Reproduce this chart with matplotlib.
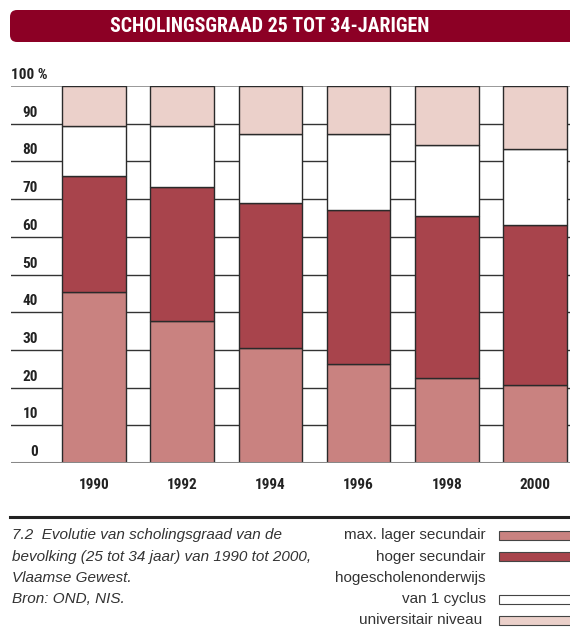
import matplotlib
matplotlib.use("Agg")
import matplotlib.pyplot as plt
from matplotlib import font_manager
from matplotlib.patches import FancyBboxPatch, Rectangle

# ---- data ----
years = ['1990', '1992', '1994', '1996', '1998', '2000']
max_lager = [45.3, 37.7, 30.6, 26.2, 22.6, 20.6]
hoger_sec = [30.7, 35.4, 38.4, 40.8, 42.9, 42.4]
hogescholen = [13.3, 16.2, 18.3, 20.3, 18.8, 20.2]
universitair = [10.7, 10.7, 12.7, 12.7, 15.7, 16.8]
yticks = [0, 10, 20, 30, 40, 50, 60, 70, 80, 90]
series_labels = ['max. lager secundair', 'hoger secundair',
                 'hogescholenonderwijs\nvan 1 cyclus', 'universitair niveau']
colors = ['#C98280', '#A8444C', '#FFFFFF', '#EBD0CA']
title = 'SCHOLINGSGRAAD 25 TOT 34-JARIGEN'
caption = ['7.2  Evolutie van scholingsgraad van de',
           'bevolking (25 tot 34 jaar) van 1990 tot 2000,',
           'Vlaamse Gewest.',
           'Bron: OND, NIS.']

names = {f.name for f in font_manager.fontManager.ttflist}
narrow = 'DejaVu Sans'
for cand in ['Liberation Sans Narrow', 'Roboto Condensed', 'Roboto']:
    if cand in names:
        narrow = cand
        break
regular = 'Liberation Sans' if 'Liberation Sans' in names else 'DejaVu Sans'

W, H = 570, 642
fig = plt.figure(figsize=(W / 100, H / 100), dpi=100)

def fx(px):
    return px / W

def fy(py):
    return 1 - py / H

# title banner
banner = FancyBboxPatch((0.10, (H - 42) / 100), 6.2, 0.32,
                        boxstyle="round,pad=0,rounding_size=0.07",
                        transform=fig.dpi_scale_trans, facecolor='#8C0025',
                        edgecolor='none')
fig.add_artist(banner)
fig.text(fx(270), fy(26.5), title, color='white', fontsize=14.3, fontweight='bold',
         family=narrow, ha='center', va='center')

# axes
ax_l, ax_r, ax_t, ax_b = 11, 570, 86, 463
ax = fig.add_axes([fx(ax_l), fy(ax_b), (ax_r - ax_l) / W, (ax_b - ax_t) / H])
x = list(range(len(years)))
unit = 88.2
left0 = -(94 - ax_l) / unit
ax.set_xlim(left0, left0 + (ax_r - ax_l) / unit)
ax.set_ylim(0, 100)
for s in ax.spines.values():
    s.set_visible(False)
ax.set_xticks([])
ax.set_yticks([])
ax.patch.set_alpha(0)

for v in yticks[1:]:
    ax.axhline(v, color='#333333', lw=1.0, zorder=1)
ax.axhline(100, color='#888888', lw=1.2, zorder=1)
ax.axhline(0, color='#888888', lw=2.2, zorder=4)

bw = 63.5 / unit
bottom = [0] * len(years)
for vals, c in zip([max_lager, hoger_sec, hogescholen, universitair], colors):
    ax.bar(x, vals, bw, bottom=bottom, color=c, edgecolor='#2a2a2a', lw=1.0, zorder=3)
    bottom = [b + v for b, v in zip(bottom, vals)]

# y labels
ylab_x = (38 - ax_l) / (ax_r - ax_l)
for v in yticks:
    ax.text(ylab_x, v + 2.9, str(v), transform=ax.get_yaxis_transform(),
            ha='right', va='center', fontsize=11, fontweight='bold',
            family=narrow, color='#222222')
ax.text(0.0, 102.9, '100 %', transform=ax.get_yaxis_transform(),
        ha='left', va='center', fontsize=11, fontweight='bold',
        family=narrow, color='#222222', clip_on=False)

# x labels
for xi, yr in zip(x, years):
    ax.text(xi, -5.8, yr, ha='center', va='center', fontsize=11,
            fontweight='bold', family=narrow, color='#222222', clip_on=False)

# rule
fig.add_artist(plt.Line2D([fx(10), fx(570)], [fy(517), fy(517)],
                          color='#222222', lw=2.2))

# caption
line_y = [535, 556.5, 578, 599, 620]
for i, line in enumerate(caption):
    fig.text(fx(12), fy(line_y[i]), line, fontsize=11, style='italic',
             family=regular, color='#333333', ha='left', va='center')

# legend
leg_rows = [0, 1, 3, 4]
for lab, c, row in zip(series_labels, colors, leg_rows):
    parts = lab.split('\n')
    if len(parts) == 2:
        fig.text(fx(486), fy(line_y[row - 1]), parts[0], fontsize=11,
                 family=regular, color='#333333', ha='right', va='center')
        fig.text(fx(486), fy(line_y[row]), parts[1], fontsize=11,
                 family=regular, color='#333333', ha='right', va='center')
    else:
        fig.text(fx(486 if row != 4 else 482), fy(line_y[row]), lab, fontsize=11,
                 family=regular, color='#333333', ha='right', va='center')
    rect = Rectangle((fx(499), fy(line_y[row] + 4.5)), fx(80), 9 / H,
                     transform=fig.transFigure, facecolor=c,
                     edgecolor='#444444', lw=0.8)
    fig.add_artist(rect)

fig.savefig('out.png', dpi=100)
